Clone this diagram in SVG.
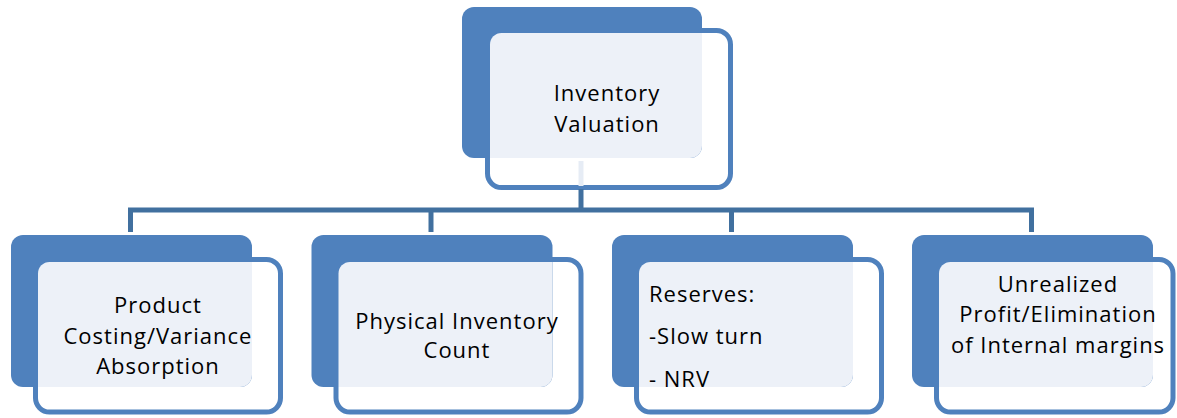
<svg xmlns="http://www.w3.org/2000/svg" width="1177" height="418" viewBox="0 0 1177 418">
  <style>
    .back { fill: #4f81bd; }
    .front { fill: #ffffff; stroke: #4f81bd; stroke-width: 5; }
    .light { fill: #edf1f8; }
    .t { font-family: "Open Sans", "Liberation Sans", sans-serif; font-size: 22px; fill: #000000; letter-spacing: 1px; }
    .c { text-anchor: middle; }
    .conn { fill: none; stroke: #41709f; stroke-width: 5; stroke-linejoin: miter; }
    .ghost { fill: none; stroke: #e6ecf5; stroke-width: 5; }
  </style>
  <defs>
    <clipPath id="clipBottom"><rect x="0" y="0" width="241" height="152" rx="12"/></clipPath>
    <clipPath id="clipTop"><rect x="0" y="0" width="240" height="151" rx="12"/></clipPath>
  </defs>

  <g id="node-top" transform="translate(462,7)">
    <rect class="front" x="25.5" y="23.5" width="243" height="157" rx="14"/>
    <rect class="back" x="0" y="0" width="240" height="151" rx="12"/>
    <rect class="light" x="28" y="26" width="238" height="152" rx="11.5" clip-path="url(#clipTop)"/>
  </g>

  <g id="node-product" transform="translate(11,235)">
    <rect class="front" x="24.5" y="24.5" width="245" height="152.5" rx="14"/>
    <rect class="back" x="0" y="0" width="241" height="152" rx="12"/>
    <rect class="light" x="27" y="27" width="240" height="147.5" rx="11.5" clip-path="url(#clipBottom)"/>
  </g>

  <g id="node-physical" transform="translate(311.5,235)">
    <rect class="front" x="24.5" y="24.5" width="245" height="152.5" rx="14"/>
    <rect class="back" x="0" y="0" width="241" height="152" rx="12"/>
    <rect class="light" x="27" y="27" width="240" height="147.5" rx="11.5" clip-path="url(#clipBottom)"/>
  </g>

  <g id="node-reserves" transform="translate(612,235)">
    <rect class="front" x="24.5" y="24.5" width="245" height="152.5" rx="14"/>
    <rect class="back" x="0" y="0" width="241" height="152" rx="12"/>
    <rect class="light" x="27" y="27" width="240" height="147.5" rx="11.5" clip-path="url(#clipBottom)"/>
  </g>

  <g id="node-unrealized" transform="translate(912,235)">
    <rect class="front" x="24.5" y="24.5" width="236.5" height="152.5" rx="14"/>
    <rect class="back" x="0" y="0" width="241" height="152" rx="12"/>
    <rect class="light" x="27" y="27" width="231.5" height="147.5" rx="11.5" clip-path="url(#clipBottom)"/>
  </g>

  <g id="connectors">
    <line class="ghost" x1="581" y1="161" x2="581" y2="186"/>
    <line class="conn" x1="581" y1="189" x2="581" y2="210"/>
    <path class="conn" d="M130.5 232 V210 H1031.5 V232"/>
    <line class="conn" x1="431" y1="210" x2="431" y2="232"/>
    <line class="conn" x1="731.5" y1="210" x2="731.5" y2="232"/>
  </g>

  <g id="labels">
    <text class="t c" x="607" y="101">Inventory</text>
    <text class="t c" x="607" y="132">Valuation</text>

    <text class="t c" x="158" y="313">Product</text>
    <text class="t c" x="158" y="344">Costing/Variance</text>
    <text class="t c" x="158" y="374">Absorption</text>

    <text class="t c" x="457" y="329">Physical Inventory</text>
    <text class="t c" x="457" y="358">Count</text>

    <text class="t" x="649" y="302">Reserves:</text>
    <text class="t" x="649" y="344">-Slow turn</text>
    <text class="t" x="649" y="387">- NRV</text>

    <text class="t c" x="1058" y="292">Unrealized</text>
    <text class="t c" x="1058" y="322">Profit/Elimination</text>
    <text class="t c" x="1058" y="353">of Internal margins</text>
  </g>
</svg>
